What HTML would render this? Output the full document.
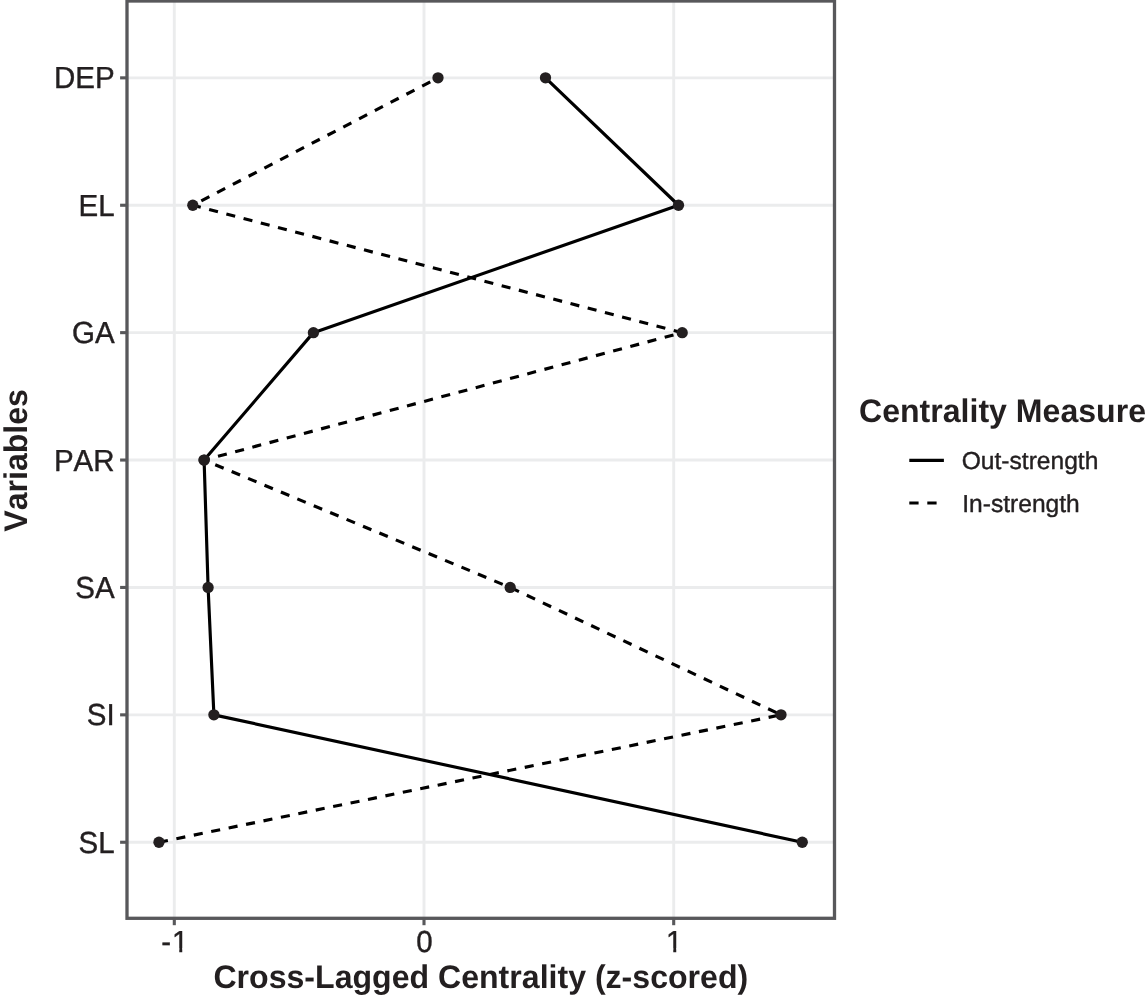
<!DOCTYPE html>
<html lang="en"><head><meta charset="utf-8"><title>Cross-Lagged Centrality</title>
<style>html,body{margin:0;padding:0;background:#fff;}body{width:1146px;height:1000px;overflow:hidden;}svg{display:block;}text{font-kerning:none;text-rendering:geometricPrecision;font-family:"Liberation Sans",Arial,Helvetica,sans-serif;fill:#231f20;}.b{font-weight:bold;}.r{stroke:#231f20;stroke-width:0.4;stroke-linejoin:round;}</style></head><body>
<svg width="1146" height="1000" viewBox="0 0 1146 1000">
<rect x="0" y="0" width="1146" height="1000" fill="#ffffff"/>
<g stroke="#ebeced" stroke-width="2.9" fill="none">
<line x1="174.30" y1="1.00" x2="174.30" y2="918.30"/>
<line x1="424.00" y1="1.00" x2="424.00" y2="918.30"/>
<line x1="673.70" y1="1.00" x2="673.70" y2="918.30"/>
<line x1="127.00" y1="77.85" x2="834.50" y2="77.85"/>
<line x1="127.00" y1="205.25" x2="834.50" y2="205.25"/>
<line x1="127.00" y1="332.65" x2="834.50" y2="332.65"/>
<line x1="127.00" y1="460.05" x2="834.50" y2="460.05"/>
<line x1="127.00" y1="587.45" x2="834.50" y2="587.45"/>
<line x1="127.00" y1="714.85" x2="834.50" y2="714.85"/>
<line x1="127.00" y1="842.25" x2="834.50" y2="842.25"/>
</g>
<polyline fill="none" stroke="#000" stroke-width="3.15" stroke-linejoin="round" stroke-linecap="butt" points="802.25,842.25 213.90,714.85 208.10,587.45 204.10,460.05 313.40,332.65 678.50,205.25 545.50,77.85"/>
<polyline fill="none" stroke="#000" stroke-width="3.15" stroke-linejoin="round" stroke-linecap="butt" stroke-dasharray="9.1 8.68" points="158.96,842.25 781.00,714.85 510.20,587.45 204.10,460.05 682.20,332.65 192.80,205.25 438.00,77.85"/>
<g fill="#231f20">
<circle cx="802.25" cy="842.25" r="5.65"/>
<circle cx="213.90" cy="714.85" r="5.65"/>
<circle cx="208.10" cy="587.45" r="5.65"/>
<circle cx="204.10" cy="460.05" r="5.65"/>
<circle cx="313.40" cy="332.65" r="5.65"/>
<circle cx="678.50" cy="205.25" r="5.65"/>
<circle cx="545.50" cy="77.85" r="5.65"/>
<circle cx="158.96" cy="842.25" r="5.65"/>
<circle cx="781.00" cy="714.85" r="5.65"/>
<circle cx="510.20" cy="587.45" r="5.65"/>
<circle cx="204.10" cy="460.05" r="5.65"/>
<circle cx="682.20" cy="332.65" r="5.65"/>
<circle cx="192.80" cy="205.25" r="5.65"/>
<circle cx="438.00" cy="77.85" r="5.65"/>
</g>
<rect x="127.00" y="1.00" width="707.50" height="917.30" fill="none" stroke="#58585b" stroke-width="3.3"/>
<g stroke="#58585b" stroke-width="3.1">
<line x1="120.1" y1="77.85" x2="126.5" y2="77.85"/>
<line x1="120.1" y1="205.25" x2="126.5" y2="205.25"/>
<line x1="120.1" y1="332.65" x2="126.5" y2="332.65"/>
<line x1="120.1" y1="460.05" x2="126.5" y2="460.05"/>
<line x1="120.1" y1="587.45" x2="126.5" y2="587.45"/>
<line x1="120.1" y1="714.85" x2="126.5" y2="714.85"/>
<line x1="120.1" y1="842.25" x2="126.5" y2="842.25"/>
<line x1="174.30" y1="918.8" x2="174.30" y2="925.2"/>
<line x1="424.00" y1="918.8" x2="424.00" y2="925.2"/>
<line x1="673.70" y1="918.8" x2="673.70" y2="925.2"/>
</g>
<g class="r" font-size="29.5" text-anchor="end">
<text transform="translate(114.6,88.45) scale(1,1.03)">DEP</text>
<text transform="translate(114.6,215.85) scale(1,1.03)">EL</text>
<text transform="translate(114.6,343.25) scale(1,1.03)">GA</text>
<text transform="translate(114.6,470.65) scale(1,1.03)">PAR</text>
<text transform="translate(114.6,598.05) scale(1,1.03)">SA</text>
<text transform="translate(114.6,725.45) scale(1,1.03)">SI</text>
<text transform="translate(114.6,852.85) scale(1,1.03)">SL</text>
</g>
<g class="r" font-size="29.5" text-anchor="middle">
<text letter-spacing="0.8" transform="translate(175.20,952.0) scale(1,1.03)">-1</text>
<text transform="translate(424.40,952.0) scale(1,1.03)">0</text>
<text transform="translate(674.10,952.0) scale(1,1.03)">1</text>
</g>
<g fill="#ffffff"><rect x="171" y="948.3" width="8.26" height="4.9"/><rect x="182.25" y="948.3" width="8" height="4.9"/><rect x="665" y="948.3" width="8.26" height="4.9"/><rect x="676.25" y="948.3" width="8" height="4.9"/></g>
<text class="b" font-size="32.1" text-anchor="middle" transform="translate(480.8,987.5) scale(1,1.02)">Cross-Lagged Centrality (z-scored)</text>
<text class="b" font-size="32.1" text-anchor="middle" transform="translate(27.1,460.4) rotate(-90) scale(1,1.02)">Variables</text>
<text class="b" font-size="32.1" transform="translate(859.0,421.9) scale(1,1.02)">Centrality Measure</text>
<line x1="909.3" y1="460.3" x2="943.9" y2="460.3" stroke="#000" stroke-width="3.15"/>
<line x1="909.3" y1="503.0" x2="943.9" y2="503.0" stroke="#000" stroke-width="3.15" stroke-dasharray="9.3 8.7"/>
<text class="r" font-size="24.6" x="961.7" y="469.3">Out-strength</text>
<text class="r" font-size="24.6" x="962.2" y="511.6">In-strength</text>
</svg></body></html>
